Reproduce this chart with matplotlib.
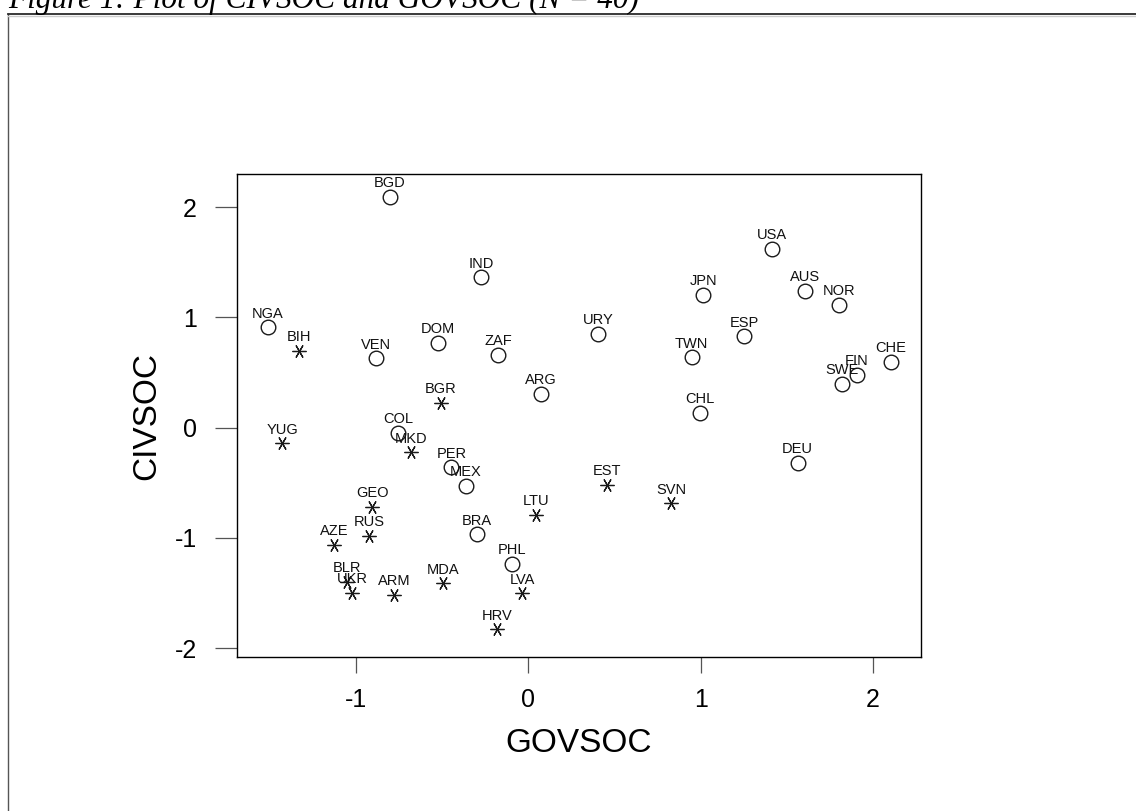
import matplotlib
matplotlib.use("Agg")
import matplotlib.pyplot as plt
from matplotlib import font_manager
from matplotlib.lines import Line2D

# country codes, GOVSOC (x), CIVSOC (y), post-communist flag (asterisk marker)
countries = ["BGD", "IND", "NGA", "BIH", "VEN", "DOM", "ZAF", "ARG", "BGR",
             "YUG", "COL", "MKD", "PER", "MEX", "GEO", "RUS", "AZE", "BRA",
             "LTU", "PHL", "BLR", "UKR", "ARM", "MDA", "LVA", "HRV",
             "USA", "AUS", "NOR", "JPN", "URY", "ESP", "TWN", "CHE", "FIN",
             "SWE", "CHL", "DEU", "EST", "SVN"]
govsoc = [-0.805, -0.275, -1.513, -1.333, -0.886, -0.524, -0.176, 0.075, -0.507,
          -1.428, -0.756, -0.679, -0.447, -0.364, -0.905, -0.923, -1.126, -0.298,
          0.045, -0.095, -1.052, -1.021, -0.778, -0.497, -0.035, -0.182,
          1.416, 1.604, 1.805, 1.016, 0.404, 1.254, 0.948, 2.103, 1.905,
          1.821, 0.996, 1.563, 0.457, 0.830]
civsoc = [2.095, 1.363, 0.910, 0.698, 0.629, 0.768, 0.659, 0.305, 0.224,
          -0.142, -0.048, -0.224, -0.360, -0.529, -0.717, -0.980, -1.064, -0.968,
          -0.792, -1.234, -1.397, -1.500, -1.518, -1.412, -1.503, -1.829,
          1.621, 1.243, 1.116, 1.206, 0.853, 0.828, 0.638, 0.599, 0.481,
          0.396, 0.133, -0.320, -0.520, -0.687]
postcom = ["BIH", "BGR", "YUG", "MKD", "GEO", "RUS", "AZE", "LTU", "BLR",
           "UKR", "ARM", "MDA", "LVA", "HRV", "EST", "SVN"]

xticks = [-1, 0, 1, 2]
yticks = [-2, -1, 0, 1, 2]

names = {f.name for f in font_manager.fontManager.ttflist}
label_font = "Liberation Sans Narrow" if "Liberation Sans Narrow" in names else "Liberation Sans"
plt.rcParams["font.family"] = ["Liberation Sans", "DejaVu Sans"]

W, H = 1136, 811
fig = plt.figure(figsize=(W / 100, H / 100), dpi=100)
fig.patch.set_facecolor("white")

# page frame and cut-off caption
fig.add_artist(Line2D([8 / W, 8 / W], [0, 1 - 14 / H], transform=fig.transFigure,
                      color="#555555", lw=1.0))
fig.add_artist(Line2D([8 / W, 1], [1 - 14 / H, 1 - 14 / H], transform=fig.transFigure,
                      color="#2a2a2a", lw=1.3))
fig.add_artist(Line2D([8 / W, 1], [1 - 16 / H, 1 - 16 / H], transform=fig.transFigure,
                      color="#cccccc", lw=1.0))
fig.text(8 / W, 1 - 8 / H, "Figure 1: Plot of CIVSOC and GOVSOC (N = 40)",
         family=["Liberation Serif", "DejaVu Serif"], style="italic",
         fontsize=22.5, ha="left", va="baseline")

ax = fig.add_axes([237 / W, 1 - 657 / H, (921 - 237) / W, (657 - 174) / H])

for code, x, y in zip(countries, govsoc, civsoc):
    if code in postcom:
        ax.plot(x, y, marker=(6, 2, 90), ms=10, mec="#1a1a1a", mew=0.9, ls="none")
    else:
        ax.plot(x, y, marker="o", ms=10.5, mfc="none", mec="#1a1a1a", mew=1.0, ls="none")
    ax.annotate(code, (x, y), xytext=(0, 7), textcoords="offset points",
                ha="center", va="baseline", fontsize=10.5, family=label_font,
                color="#111111")

ax.set_xlim(-1.691, 2.279)
ax.set_ylim(-2.08, 2.30)
ax.set_xticks(xticks)
ax.set_yticks(yticks)
ax.set_xticklabels([str(t) for t in xticks])
ax.set_yticklabels([str(t) for t in yticks])

for s in ax.spines.values():
    s.set_linewidth(1.0)
    s.set_color("black")
ax.tick_params(axis="x", direction="out", length=11.5, width=0.9, color="#555555",
               labelsize=18, pad=11)
ax.tick_params(axis="y", direction="out", length=16, width=0.9, color="#555555",
               labelsize=18, pad=13)

ax.set_xlabel("GOVSOC", fontsize=24)
ax.set_ylabel("CIVSOC", fontsize=24)
ax.xaxis.set_label_coords(0.5, -0.148)
ax.yaxis.set_label_coords(-0.11, 0.5)

fig.savefig("out.png", dpi=100, facecolor="white")
